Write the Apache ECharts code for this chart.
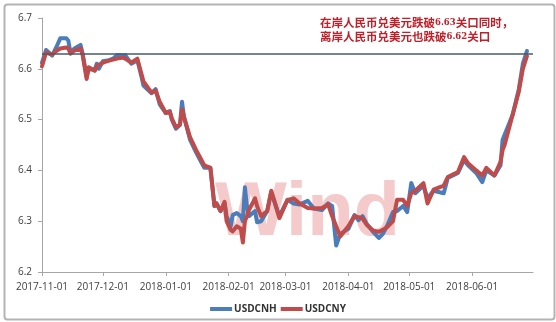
<!DOCTYPE html>
<html>
<head>
<meta charset="utf-8">
<script src="https://cdn.jsdelivr.net/npm/echarts@6/dist/echarts.min.js"></script>
<style>
  html, body { margin: 0; padding: 0; background: #fff; }
  #chart { width: 556px; height: 322px; }
</style>
</head>
<body>
<div id="chart"></div>
<script>
const dates = [
  '2017-11-01','2017-11-03','2017-11-06','2017-11-08','2017-11-10','2017-11-13','2017-11-14','2017-11-15','2017-11-17','2017-11-20','2017-11-21','2017-11-23','2017-11-24','2017-11-27','2017-11-28','2017-11-29',
  '2017-12-01','2017-12-04','2017-12-06','2017-12-08','2017-12-11','2017-12-12','2017-12-15','2017-12-18','2017-12-20','2017-12-21','2017-12-25','2017-12-27','2017-12-29',
  '2018-01-01','2018-01-03','2018-01-04','2018-01-06','2018-01-08','2018-01-09','2018-01-10','2018-01-13','2018-01-16','2018-01-18','2018-01-20','2018-01-23','2018-01-25','2018-01-26','2018-01-28','2018-01-30','2018-01-31',
  '2018-02-02','2018-02-03','2018-02-05','2018-02-07','2018-02-08','2018-02-09','2018-02-10','2018-02-11','2018-02-14','2018-02-15','2018-02-17','2018-02-20','2018-02-22','2018-02-26',
  '2018-03-02','2018-03-05','2018-03-08','2018-03-12','2018-03-15','2018-03-19','2018-03-22','2018-03-24','2018-03-26','2018-03-28','2018-03-30',
  '2018-04-01','2018-04-04','2018-04-06','2018-04-08','2018-04-10','2018-04-13','2018-04-16','2018-04-18','2018-04-20','2018-04-23','2018-04-25','2018-04-28','2018-04-30',
  '2018-05-02','2018-05-04','2018-05-08','2018-05-10','2018-05-13','2018-05-18','2018-05-20','2018-05-25','2018-05-28','2018-05-30',
  '2018-06-03','2018-06-06','2018-06-08','2018-06-12','2018-06-15','2018-06-16','2018-06-17','2018-06-19','2018-06-21','2018-06-24','2018-06-26','2018-06-28'
];

const usdcnh = [
  6.612, 6.637, 6.626, 6.642, 6.660, 6.660, 6.655, 6.632, 6.640, 6.647, 6.630, 6.585, 6.600, 6.598, 6.610, 6.600,
  6.615, 6.617, 6.620, 6.627, 6.626, 6.627, 6.610, 6.617, 6.585, 6.567, 6.552, 6.560, 6.530,
  6.513, 6.517, 6.500, 6.482, 6.490, 6.535, 6.505, 6.460, 6.435, 6.420, 6.405, 6.405, 6.330, 6.335, 6.320, 6.335, 6.310,
  6.290, 6.312, 6.316, 6.310, 6.300, 6.367, 6.330, 6.310, 6.320, 6.298, 6.300, 6.320, 6.357, 6.310,
  6.342, 6.335, 6.333, 6.340, 6.325, 6.322, 6.335, 6.330, 6.252, 6.275, 6.280,
  6.285, 6.312, 6.302, 6.310, 6.295, 6.280, 6.267, 6.275, 6.290, 6.318, 6.320, 6.330, 6.318,
  6.375, 6.355, 6.370, 6.345, 6.360, 6.355, 6.385, 6.395, 6.420, 6.410,
  6.395, 6.377, 6.400, 6.390, 6.410, 6.460, 6.470, 6.490, 6.510, 6.560, 6.610, 6.635
];

const usdcny = [
  6.605, 6.632, 6.628, 6.635, 6.640, 6.642, 6.640, 6.630, 6.636, 6.640, 6.628, 6.580, 6.603, 6.596, 6.605, 6.608,
  6.612, 6.616, 6.618, 6.620, 6.622, 6.620, 6.612, 6.620, 6.590, 6.575, 6.553, 6.557, 6.535,
  6.513, 6.515, 6.502, 6.485, 6.490, 6.520, 6.505, 6.465, 6.440, 6.425, 6.410, 6.405, 6.330, 6.335, 6.320, 6.338, 6.300,
  6.283, 6.280, 6.290, 6.285, 6.258, 6.300, 6.310, 6.322, 6.345, 6.330, 6.310, 6.320, 6.360, 6.306,
  6.342, 6.345, 6.335, 6.326, 6.325, 6.326, 6.333, 6.310, 6.290, 6.270, 6.280,
  6.290, 6.310, 6.308, 6.305, 6.293, 6.282, 6.279, 6.283, 6.288, 6.300, 6.342, 6.342, 6.330,
  6.355, 6.360, 6.375, 6.335, 6.362, 6.370, 6.387, 6.397, 6.426, 6.414,
  6.400, 6.390, 6.405, 6.390, 6.417, 6.440, 6.450, 6.480, 6.510, 6.555, 6.600, 6.625
];

const seriesNames = ['USDCNH', 'USDCNY'];
const breakLevel = 6.63;
const axisStart = '2017-11-01';
const axisEnd = '2018-07-01';
const noteLine1 = ['在岸人民币兑美元跌破', '6.63', '关口同时，'];
const noteLine2 = ['离岸人民币兑美元也跌破', '6.62', '关口'];

// every calendar day on the x axis, labels only on the 1st of each month
const days = [];
for (let d = new Date(axisStart + 'T00:00:00Z'); d <= new Date(axisEnd + 'T00:00:00Z'); d.setUTCDate(d.getUTCDate() + 1)) {
  days.push(d.toISOString().slice(0, 10));
}
const isMonthStart = (idx, val) => val.slice(8) === '01' && idx < days.length - 1;

const chart = echarts.init(document.getElementById('chart'));

const option = {
  animation: false,
  backgroundColor: '#fff',
  title: {
    left: 320,
    top: 16,
    padding: 0,
    text: '{a|' + noteLine1[0] + '}{n|' + noteLine1[1] + '}{a|' + noteLine1[2] + '}\n' +
          '{a|' + noteLine2[0] + '}{n|' + noteLine2[1] + '}{a|' + noteLine2[2] + '}',
    textStyle: {
      rich: {
        a: { fontFamily: 'Noto Sans CJK SC', fontSize: 11.5, fontWeight: 'bold', color: '#c0202a', lineHeight: 14 },
        n: { fontFamily: 'DejaVu Serif', fontSize: 8.5, fontWeight: 'bold', color: '#c0202a', lineHeight: 14 }
      }
    }
  },
  graphic: [
    {
      type: 'rect', left: 2, top: 2, z: -10,
      shape: { width: 550, height: 315, r: 3 },
      style: { fill: 'none', stroke: '#b4b4b4', lineWidth: 2 }
    },
    {
      type: 'text', left: 215, top: 176, z: 0,
      style: { text: 'Wind', font: 'bold 76px "Liberation Sans"', fill: '#f4caca' }
    }
  ],
  legend: {
    bottom: 3,
    left: 'center',
    icon: 'rect',
    itemWidth: 22,
    itemHeight: 4,
    itemGap: 4,
    textStyle: { fontSize: 10, fontWeight: 'bold', color: '#333', fontFamily: 'Open Sans', padding: [0, 0, 0, -3] },
    data: seriesNames
  },
  grid: { left: 42, right: 23, top: 18, bottom: 50 },
  xAxis: {
    type: 'category',
    data: days,
    boundaryGap: false,
    axisLine: { lineStyle: { color: '#a6a6a6', width: 1 } },
    axisTick: { interval: isMonthStart, length: 4, lineStyle: { color: '#a6a6a6' } },
    axisLabel: { interval: isMonthStart, color: '#404040', fontSize: 10, margin: 10, fontFamily: 'Open Sans' },
    splitLine: { show: false }
  },
  yAxis: {
    type: 'value',
    min: 6.2,
    max: 6.7,
    interval: 0.1,
    axisLine: { show: true, lineStyle: { color: '#a6a6a6', width: 1 } },
    axisTick: { show: true, length: 4, lineStyle: { color: '#a6a6a6' } },
    axisLabel: { color: '#404040', fontSize: 10, margin: 10, fontFamily: 'Open Sans', formatter: v => v.toFixed(1) },
    splitLine: { show: false }
  },
  series: [
    {
      name: seriesNames[0],
      type: 'line',
      data: usdcnh.map((v, i) => [dates[i], v]),
      showSymbol: false,
      color: '#4a7dba',
      lineStyle: { width: 4, color: '#4a7dba', join: 'round', cap: 'round' },
      markLine: {
        silent: true,
        symbol: 'none',
        label: { show: false },
        lineStyle: { color: '#475b6c', width: 1.5, type: 'solid' },
        data: [{ yAxis: breakLevel }]
      }
    },
    {
      name: seriesNames[1],
      type: 'line',
      data: usdcny.map((v, i) => [dates[i], v]),
      showSymbol: false,
      color: '#bf4b4a',
      lineStyle: { width: 4, color: '#bf4b4a', join: 'round', cap: 'round' }
    }
  ]
};

chart.setOption(option);
</script>
</body>
</html>
